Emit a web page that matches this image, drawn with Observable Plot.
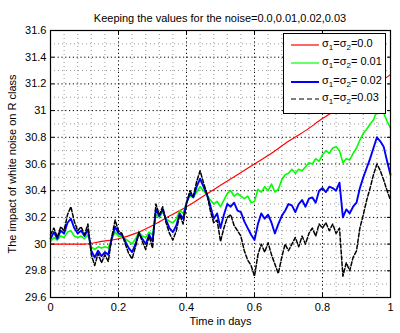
<!DOCTYPE html>
<html>
<head>
<meta charset="utf-8">
<script src="https://cdn.jsdelivr.net/npm/d3@7"></script>
<script src="https://cdn.jsdelivr.net/npm/@observablehq/plot@0.6"></script>
<style>
  html, body { margin: 0; padding: 0; background: #fff; }
  body { font-family: "Liberation Sans", Arial, Helvetica, sans-serif; }
  #wrap { position: relative; width: 400px; height: 333px; overflow: hidden; }
  #title { height: 25px; width: 360px; padding-left: 40px; text-align: center; font-size: 11px; line-height: 11px; box-sizing: content-box; }
  #title span { display: inline-block; margin-top: 13px; }
  #legend { position: absolute; left: 283px; top: 33px; width: 101px; height: 79px; border: 1px solid #000; background: #fff; }
  .entry { position: absolute; left: 0; height: 14px; width: 100px; font-size: 11px; }
  .entry svg { position: absolute; left: 6px; top: 3px; }
  .entry .lab { position: absolute; left: 38px; top: 0; white-space: nowrap; line-height: 11px; }
  .entry sub { font-size: 8px; vertical-align: -3px; line-height: 0; }
</style>
</head>
<body>
<div id="wrap">
  <div id="title"><span>Keeping the values for the noise=0.0,0.01,0.02,0.03</span></div>
  <div id="chart"></div>
  <div id="legend"></div>
</div>
<script>
// ---- data ----
const title = "Keeping the values for the noise=0.0,0.01,0.02,0.03";
const xLabel = "Time in days";
const yLabel = "The impact of white noise on R class";
const xTicks = [0, 0.2, 0.4, 0.6, 0.8, 1];
const yTicks = [29.6, 29.8, 30, 30.2, 30.4, 30.6, 30.8, 31, 31.2, 31.4, 31.6];
const seriesNames = ["0.0", " 0.01", " 0.02", "0.03"];
const seriesColors = ["#ff0000", "#00ff00", "#0000ff", "#000000"];

// deterministic case (sigma = 0), sampled every 0.05 day
const tRed = [0,0.05,0.1,0.15,0.2,0.25,0.3,0.35,0.4,0.45,0.5,0.55,0.6,0.65,0.7,0.75,0.8,0.85,0.9,0.95,1];
const red  = [30.0,30.0,30.0,30.02,30.04,30.08,30.14,30.21,30.28,30.36,30.44,30.52,30.6,30.68,30.77,30.85,30.94,31.02,31.1,31.18,31.27];

// noisy cases, sampled every 0.01 day
const tNoise = d3.range(0, 101).map(i => i / 100);
const green = [
  30.02,30.05,30.03,30.06,30.05,30.09,30.10,30.06,30.05,30.06,
  30.04,30.07,29.98,29.96,29.98,29.97,29.98,29.97,30.04,30.09,
  30.06,30.06,30.04,30.02,30.00,30.04,30.09,30.06,30.05,30.09,
  30.07,30.22,30.20,30.24,30.19,30.17,30.16,30.19,30.25,30.23,
  30.31,30.36,30.35,30.39,30.43,30.40,30.37,30.33,30.30,30.32,
  30.28,30.33,30.38,30.40,30.36,30.38,30.36,30.34,30.36,30.31,
  30.32,30.41,30.39,30.43,30.40,30.45,30.39,30.41,30.48,30.52,
  30.53,30.56,30.53,30.56,30.55,30.58,30.61,30.60,30.64,30.62,
  30.67,30.70,30.68,30.72,30.73,30.70,30.61,30.64,30.63,30.68,
  30.72,30.78,30.83,30.86,30.90,30.93,31.00,31.02,30.98,30.92,
  30.87];
const blue = [
  30.04,30.09,30.04,30.10,30.08,30.16,30.19,30.12,30.08,30.10,
  30.06,30.11,29.95,29.90,29.95,29.91,29.94,29.92,30.04,30.13,
  30.08,30.07,30.02,29.97,29.94,30.00,30.08,30.04,30.00,30.07,
  30.02,30.26,30.21,30.26,30.18,30.12,30.09,30.14,30.23,30.19,
  30.31,30.38,30.35,30.43,30.49,30.43,30.37,30.29,30.19,30.23,
  30.12,30.22,30.30,30.28,30.31,30.25,30.24,30.17,30.12,30.07,
  30.03,30.15,30.23,30.19,30.22,30.16,30.08,30.15,30.21,30.25,
  30.30,30.29,30.24,30.30,30.33,30.28,30.34,30.35,30.31,30.40,
  30.42,30.39,30.43,30.42,30.40,30.46,30.20,30.26,30.23,30.28,
  30.31,30.42,30.50,30.57,30.64,30.72,30.80,30.77,30.73,30.62,
  30.52];
const black = [
  30.07,30.12,30.05,30.13,30.10,30.22,30.28,30.17,30.10,30.13,
  30.07,30.15,29.92,29.84,29.93,29.86,29.92,29.87,30.05,30.18,
  30.10,30.08,30.00,29.93,29.89,29.98,30.09,30.02,29.96,30.06,
  29.97,30.30,30.22,30.28,30.16,30.08,30.03,30.10,30.22,30.15,
  30.30,30.40,30.36,30.47,30.55,30.46,30.38,30.25,30.16,30.18,
  30.02,30.12,30.20,30.22,30.14,30.10,30.06,29.95,29.88,29.84,
  29.76,29.92,30.00,29.94,30.01,29.92,29.85,29.78,29.90,30.00,
  29.95,30.00,30.05,29.98,30.06,30.00,30.08,30.12,30.06,30.15,
  30.12,30.16,30.10,30.15,30.08,30.12,29.76,29.86,29.80,29.90,
  29.95,30.12,30.22,30.33,30.42,30.52,30.60,30.55,30.48,30.40,
  30.33];

// ---- build tables ----
const redData = tRed.map((t, i) => ({t, v: red[i]}));
const mk = arr => tNoise.map((t, i) => ({t, v: arr[i]}));
const greenData = mk(green), blueData = mk(blue), blackData = mk(black);

const xMinor = d3.range(0, 26).map(i => i * 0.04).filter(v => !xTicks.some(m => Math.abs(m - v) < 1e-9));
const yMinor = d3.range(0, 10).map(i => 29.7 + i * 0.2);
const fmt = d => String(+d.toFixed(1));
const blank = () => "";

const plot = Plot.plot({
  width: 400,
  height: 308,
  marginLeft: 50,
  marginRight: 10,
  marginTop: 5,
  marginBottom: 36,
  style: {fontFamily: '"Liberation Sans", Arial, Helvetica, sans-serif', fontSize: "11px", background: "#fff", color: "#000"},
  x: {domain: [0, 1]},
  y: {domain: [29.6, 31.6]},
  marks: [
    Plot.gridX(xMinor, {stroke: "#9a9a9a", strokeOpacity: 1, strokeDasharray: "1,3"}),
    Plot.gridY(yMinor, {stroke: "#9a9a9a", strokeOpacity: 1, strokeDasharray: "1,3"}),
    Plot.gridX(xTicks, {stroke: "#000", strokeOpacity: 1, strokeDasharray: "1.2,2.6"}),
    Plot.gridY(yTicks, {stroke: "#000", strokeOpacity: 1, strokeDasharray: "1.2,2.6"}),
    Plot.line(redData, {x: "t", y: "v", stroke: seriesColors[0], strokeWidth: 1.2, curve: "monotone-x"}),
    Plot.line(greenData, {x: "t", y: "v", stroke: seriesColors[1], strokeWidth: 1.6}),
    Plot.line(blueData, {x: "t", y: "v", stroke: seriesColors[2], strokeWidth: 1.9}),
    Plot.line(blackData, {x: "t", y: "v", stroke: seriesColors[3], strokeWidth: 1.5, strokeDasharray: "4,2"}),
    Plot.axisX(xTicks, {tickSize: 0, tickPadding: 6, tickFormat: fmt, label: xLabel, labelAnchor: "center", labelArrow: "none", labelOffset: 27}),
    Plot.axisY(yTicks, {tickSize: 0, tickPadding: 4, tickFormat: fmt, label: yLabel, labelAnchor: "center", labelArrow: "none", labelOffset: 42}),
    Plot.axisX(xTicks, {anchor: "bottom", tickSize: -4, tickFormat: blank, label: null}),
    Plot.axisX(xTicks, {anchor: "top", tickSize: -4, tickFormat: blank, label: null}),
    Plot.axisY(yTicks, {anchor: "left", tickSize: -4, tickFormat: blank, label: null}),
    Plot.axisY(yTicks, {anchor: "right", tickSize: -4, tickFormat: blank, label: null}),
    Plot.frame({stroke: "#000", strokeWidth: 1.2})
  ]
});
document.getElementById("chart").appendChild(plot);

// ---- legend ----
const legend = document.getElementById("legend");
const tops = [4, 22, 41, 58];
seriesNames.forEach((name, i) => {
  const e = document.createElement("div");
  e.className = "entry";
  e.style.top = tops[i] + "px";
  const dash = i === 3 ? 'stroke-dasharray="5,3"' : "";
  e.innerHTML = `<svg width="30" height="8"><line x1="1" y1="4" x2="29" y2="4" stroke="${seriesColors[i]}" stroke-width="${i === 2 ? 2 : 1.2}" ${dash}/></svg>` +
    `<span class="lab">σ<sub>1</sub>=σ<sub>2</sub>=${name.replace(" ", "&nbsp;")}</span>`;
  legend.appendChild(e);
});
</script>
</body>
</html>
